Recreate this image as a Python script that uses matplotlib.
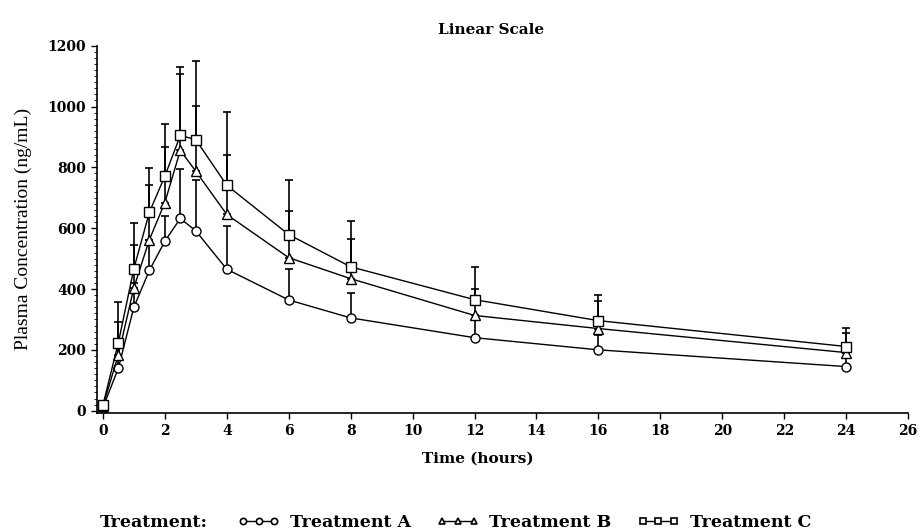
import matplotlib
matplotlib.use("Agg")
import matplotlib.pyplot as plt
from matplotlib.ticker import MultipleLocator
from matplotlib.lines import Line2D
import numpy as np

times = [0, 0.5, 1, 1.5, 2, 2.5, 3, 4, 6, 8, 12, 16, 24]
treat_a = [10, 140, 340, 461, 557, 632, 591, 465, 364, 305, 240, 200, 145]
treat_b = [15, 184, 404, 562, 684, 856, 787, 645, 503, 434, 313, 270, 191]
treat_c = [18, 224, 467, 652, 771, 905, 891, 741, 579, 473, 365, 296, 211]
upper_a = [20, 230, 420, 560, 640, 793, 757, 606, 467, 387, 300, 250, 190]
upper_b = [25, 290, 546, 741, 868, 1108, 1001, 839, 658, 566, 401, 360, 256]
upper_c = [30, 356, 618, 799, 944, 1129, 1151, 981, 760, 625, 471, 379, 273]
labels = ["Treatment A", "Treatment B", "Treatment C"]
xticks = list(range(0, 27, 2))
yticks = [0, 200, 400, 600, 800, 1000, 1200]

fig = plt.figure(figsize=(9.21, 5.31), dpi=100)
ax = fig.add_axes([0.105, 0.222, 0.881, 0.692])

series = [(treat_a, upper_a, "o"), (treat_b, upper_b, "^"), (treat_c, upper_c, "s")]
for vals, up, mk in series:
    vals = np.array(vals, float)
    up = np.array(up, float)
    err = np.vstack([np.zeros_like(vals), up - vals])
    ax.errorbar(times, vals, yerr=err, fmt="none", ecolor="black",
                elinewidth=1.2, capsize=3, capthick=1.2, zorder=2)
    ax.plot(times, vals, color="black", lw=1.0, marker=mk, markersize=6.5,
            markerfacecolor="white", markeredgecolor="black",
            markeredgewidth=1.0, zorder=3)

ax.set_xlim(-0.2, 26)
ax.set_ylim(-8, 1200)
ax.set_xticks(xticks)
ax.set_yticks(yticks)
ax.yaxis.set_minor_locator(MultipleLocator(20))
for s in ["top", "right"]:
    ax.spines[s].set_visible(False)
for s in ["left", "bottom"]:
    ax.spines[s].set_linewidth(1.2)
ax.tick_params(axis="both", which="major", length=4, width=1, direction="out")
ax.tick_params(axis="y", which="minor", length=2, width=0.6)
for lab in ax.get_xticklabels() + ax.get_yticklabels():
    lab.set_fontfamily("DejaVu Serif")
    lab.set_fontweight("bold")
    lab.set_fontsize(10)

ax.set_xlabel("Time (hours)", fontfamily="DejaVu Serif", fontweight="bold",
              fontsize=11)
ax.xaxis.set_label_coords(0.47, -0.105)
ax.set_ylabel("Plasma Concentration (ng/mL)", fontfamily="Liberation Serif",
              fontsize=14, labelpad=11)
fig.text(0.533, 0.943, "Linear Scale", fontfamily="DejaVu Serif",
         fontweight="bold", fontsize=11, ha="center", va="center")

handles = [Line2D([0], [0], color="black", lw=1.0, marker=m, markersize=4.5,
                  markerfacecolor="white", markeredgecolor="black",
                  markeredgewidth=1.2)
           for m in ["o", "^", "s"]]
fig.text(0.108, 0.016, "Treatment:", fontfamily="DejaVu Serif",
         fontweight="bold", fontsize=12.5, va="center")
leg = fig.legend(handles, labels, loc="center left", bbox_to_anchor=(0.249, 0.016),
                 ncol=3, frameon=False, numpoints=3, handlelength=2.4,
                 handletextpad=0.6, columnspacing=1.5, borderpad=0.0,
                 prop=dict(family="DejaVu Serif", weight="bold", size=12.5))

fig.savefig("out.png", dpi=100, facecolor="white")
